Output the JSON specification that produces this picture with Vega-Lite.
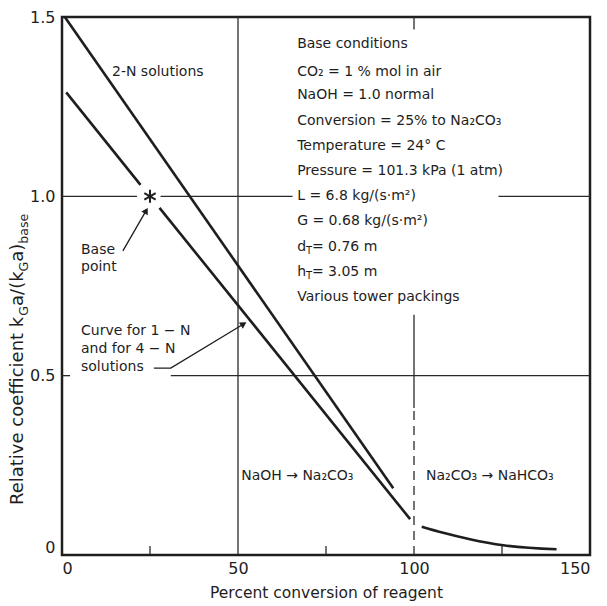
{
  "$schema": "https://vega.github.io/schema/vega-lite/v6.json",
  "width": 528,
  "height": 538,
  "autosize": "none",
  "padding": {"left": 62, "top": 17, "right": 17, "bottom": 51},
  "background": "white",
  "config": {
    "view": {"stroke": "#1e1e1e", "strokeWidth": 2.5},
    "font": "DejaVu Sans",
    "text": {"font": "DejaVu Sans", "color": "#1e1e1e"}
  },
  "datasets": {
    "hrules": [
      {"x": 0, "x2": 21.3, "y": 1},
      {"x": 28, "x2": 65.5, "y": 1},
      {"x": 124, "x2": 150, "y": 1},
      {"x": 30.9, "x2": 150, "y": 0.5},
      {"x": 0, "x2": 2.3, "y": 0.5}
    ],
    "vrules": [
      {"x": 50, "y": 0, "y2": 1.5},
      {"x": 100, "y": 0.41, "y2": 0.67},
      {"x": 100, "y": 1.465, "y2": 1.5}
    ],
    "dashed": [{"x": 100, "y": 0, "y2": 0.41}],
    "minor": [
      {"x": 25, "y": 0, "y2": 0.025},
      {"x": 75, "y": 0, "y2": 0.025},
      {"x": 125, "y": 0, "y2": 0.025}
    ],
    "curves": [
      {"s": "2N", "x": 0.8, "y": 1.5},
      {"s": "2N", "x": 94.1, "y": 0.186},
      {"s": "1N_a", "x": 1.2, "y": 1.29},
      {"s": "1N_a", "x": 22.3, "y": 1.032},
      {"s": "1N_b", "x": 27.7, "y": 0.968},
      {"s": "1N_b", "x": 98.9, "y": 0.1},
      {"s": "bicarb", "x": 102.2, "y": 0.079},
      {"s": "bicarb", "x": 108.3, "y": 0.062},
      {"s": "bicarb", "x": 115.9, "y": 0.044},
      {"s": "bicarb", "x": 125.4, "y": 0.027},
      {"s": "bicarb", "x": 140.5, "y": 0.016}
    ],
    "leaders": [
      {"s": "bp", "x": 17.3, "y": 0.848},
      {"s": "bp", "x": 23.9, "y": 0.96},
      {"s": "cv", "x": 26.1, "y": 0.521},
      {"s": "cv", "x": 30.9, "y": 0.521},
      {"s": "cv", "x": 51.6, "y": 0.644}
    ],
    "texts": [
      {"x": 66.8, "y": 1.425, "t": "Base conditions"},
      {"x": 66.8, "y": 1.347, "t": "CO₂ = 1 % mol in air"},
      {"x": 66.8, "y": 1.282, "t": "NaOH = 1.0 normal"},
      {"x": 66.8, "y": 1.21, "t": "Conversion = 25% to Na₂CO₃"},
      {"x": 66.8, "y": 1.14, "t": "Temperature = 24° C"},
      {"x": 66.8, "y": 1.07, "t": "Pressure = 101.3 kPa (1 atm)"},
      {"x": 66.8, "y": 1.001, "t": "L = 6.8 kg/(s·m²)"},
      {"x": 66.8, "y": 0.931, "t": "G = 0.68 kg/(s·m²)"},
      {"x": 66.8, "y": 0.859, "t": "d"},
      {"x": 71.0, "y": 0.859, "t": "= 0.76 m"},
      {"x": 66.8, "y": 0.789, "t": "h"},
      {"x": 71.0, "y": 0.789, "t": "= 3.05 m"},
      {"x": 66.8, "y": 0.719, "t": "Various tower packings"},
      {"x": 14.2, "y": 1.347, "t": "2-N solutions"},
      {"x": 5.4, "y": 0.85, "t": "Base"},
      {"x": 5.4, "y": 0.803, "t": "point"},
      {"x": 5.4, "y": 0.624, "t": "Curve for 1 − N"},
      {"x": 5.4, "y": 0.574, "t": "and for 4 − N"},
      {"x": 5.4, "y": 0.524, "t": "solutions"},
      {"x": 50.9, "y": 0.22, "t": "NaOH → Na₂CO₃"},
      {"x": 103.4, "y": 0.22, "t": "Na₂CO₃ → NaHCO₃"}
    ],
    "subs": [
      {"x": 69.3, "y": 0.859, "t": "T"},
      {"x": 69.3, "y": 0.789, "t": "T"}
    ],
    "ytitle": [
      {"x": -12.5, "y": 0.1394, "t": "Relative coefficient k"},
      {"x": -12.5, "y": 0.6945, "t": "a/(k"},
      {"x": -12.5, "y": 0.8177, "t": "a)"}
    ],
    "ytitlesub": [
      {"x": -12.5, "y": 0.6674, "t": "G"},
      {"x": -12.5, "y": 0.7906, "t": "G"},
      {"x": -12.5, "y": 0.8681, "t": "base"}
    ]
  },
  "encoding": {
    "x": {
      "field": "x",
      "type": "quantitative",
      "scale": {"domain": [0, 150], "nice": false, "zero": false},
      "axis": {
        "values": [0, 50, 100, 150],
        "ticks": false,
        "domain": false,
        "grid": false,
        "labelFontSize": 16,
        "labelPadding": 5,
        "labelColor": "#1e1e1e",
        "title": "Percent conversion of reagent",
        "titleFontSize": 15.5,
        "titleFontWeight": "normal",
        "titleColor": "#1e1e1e",
        "titlePadding": 9
      }
    },
    "y": {
      "field": "y",
      "type": "quantitative",
      "scale": {"domain": [0, 1.5], "nice": false, "zero": false},
      "axis": {
        "values": [0, 0.5, 1, 1.5],
        "labelExpr": "datum.value == 0 ? '0' : format(datum.value, '.1f')",
        "ticks": false,
        "domain": false,
        "grid": false,
        "labelFontSize": 16,
        "labelPadding": 7,
        "labelColor": "#1e1e1e",
        "labelBaseline": {"condition": {"test": "datum.value == 0", "value": "bottom"}, "value": "middle"},
        "title": null
      }
    }
  },
  "layer": [
    {
      "data": {"name": "hrules"},
      "mark": {"type": "rule", "stroke": "#2a2a2a", "strokeWidth": 1.3},
      "encoding": {"x2": {"field": "x2"}}
    },
    {
      "data": {"name": "vrules"},
      "mark": {"type": "rule", "stroke": "#2a2a2a", "strokeWidth": 1.3},
      "encoding": {"y2": {"field": "y2"}}
    },
    {
      "data": {"name": "dashed"},
      "mark": {"type": "rule", "stroke": "#2a2a2a", "strokeWidth": 1.3, "strokeDash": [9, 6]},
      "encoding": {"y2": {"field": "y2"}}
    },
    {
      "data": {"name": "minor"},
      "mark": {"type": "rule", "stroke": "#2a2a2a", "strokeWidth": 1.3},
      "encoding": {"y2": {"field": "y2"}}
    },
    {
      "data": {"name": "curves"},
      "mark": {"type": "line", "stroke": "#1e1e1e", "strokeWidth": 2.6, "interpolate": "monotone"},
      "encoding": {"detail": {"field": "s"}}
    },
    {
      "data": {"name": "leaders"},
      "mark": {"type": "line", "stroke": "#1e1e1e", "strokeWidth": 1.3},
      "encoding": {"detail": {"field": "s"}}
    },
    {
      "data": {"values": [{"x": 23.9, "y": 0.96}]},
      "mark": {"type": "point", "shape": "triangle-up", "filled": true, "color": "#1e1e1e", "size": 55, "angle": 30, "opacity": 1}
    },
    {
      "data": {"values": [{"x": 51.6, "y": 0.644}]},
      "mark": {"type": "point", "shape": "triangle-up", "filled": true, "color": "#1e1e1e", "size": 55, "angle": 58, "opacity": 1}
    },
    {
      "data": {"values": [{"x": 25, "y": 1.0}]},
      "mark": {"type": "point", "shape": "M0,-1L0,1M-0.87,-0.5L0.87,0.5M-0.87,0.5L0.87,-0.5", "filled": false, "stroke": "#1e1e1e", "strokeWidth": 2, "size": 170, "opacity": 1}
    },
    {
      "data": {"name": "texts"},
      "mark": {"type": "text", "align": "left", "baseline": "middle", "fontSize": 14},
      "encoding": {"text": {"field": "t"}}
    },
    {
      "data": {"name": "subs"},
      "mark": {"type": "text", "align": "left", "baseline": "middle", "fontSize": 10, "dy": 4},
      "encoding": {"text": {"field": "t"}}
    },
    {
      "data": {"name": "ytitle"},
      "mark": {"type": "text", "align": "left", "baseline": "middle", "fontSize": 18, "angle": 270},
      "encoding": {"text": {"field": "t"}}
    },
    {
      "data": {"name": "ytitlesub"},
      "mark": {"type": "text", "align": "left", "baseline": "middle", "fontSize": 12.5, "angle": 270, "dy": 6},
      "encoding": {"text": {"field": "t"}}
    }
  ]
}
